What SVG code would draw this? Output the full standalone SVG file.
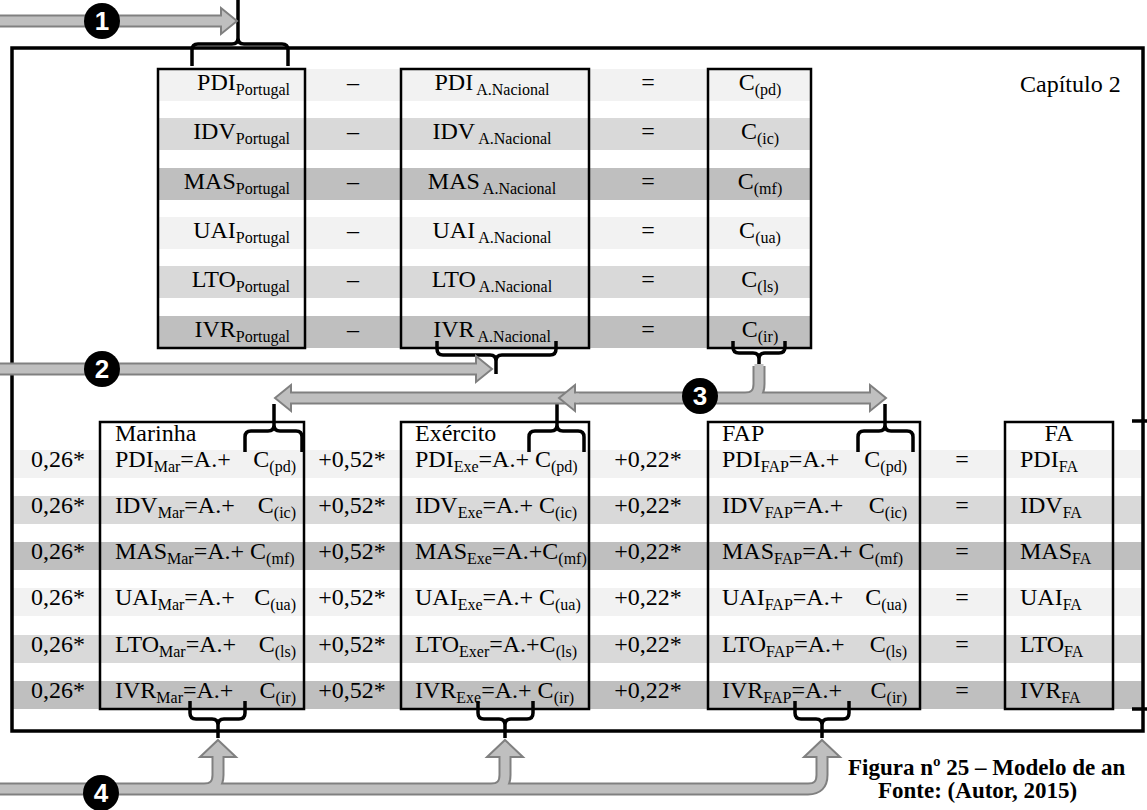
<svg xmlns="http://www.w3.org/2000/svg" width="1147" height="810" viewBox="0 0 1147 810">
<style>
.t{font-family:"Liberation Serif","Times New Roman",serif;font-size:24px;fill:#000}
.s{font-size:16px}
.m{text-anchor:middle}
.e{text-anchor:end}
.box{fill:none;stroke:#000;stroke-width:2.5}
.frame{fill:none;stroke:#000;stroke-width:3.5}
.brace{fill:none;stroke:#000;stroke-width:3.5;stroke-linejoin:round}
.ao{fill:none;stroke:#808080;stroke-width:13}
.ai{fill:none;stroke:#bfbfbf;stroke-width:9}
.ah{fill:#bfbfbf;stroke:#808080;stroke-width:2}
.b1{fill:#f2f2f2}.b2{fill:#d9d9d9}.b3{fill:#bfbfbf}
.num{font-family:"Liberation Sans Narrow","Liberation Sans",Arial,sans-serif;font-weight:bold;font-size:26px;fill:#fff;text-anchor:middle}
.cap{font-family:"Liberation Serif","Times New Roman",serif;font-weight:bold;font-size:23px;fill:#000}
</style>
<rect width="1147" height="810" fill="#fff"/>
<g id="rows">
<rect class="b1" x="158" y="69" width="653" height="32"/>
<rect class="b2" x="158" y="118" width="653" height="32"/>
<rect class="b3" x="158" y="168" width="653" height="32"/>
<rect class="b1" x="158" y="217" width="653" height="32"/>
<rect class="b2" x="158" y="266" width="653" height="32"/>
<rect class="b3" x="158" y="316" width="653" height="32"/>
<rect class="b1" x="12" y="450" width="1131" height="28"/>
<rect class="b2" x="12" y="496" width="1131" height="28"/>
<rect class="b3" x="12" y="542" width="1131" height="28"/>
<rect class="b1" x="12" y="588" width="1131" height="28"/>
<rect class="b2" x="12" y="635" width="1131" height="28"/>
<rect class="b3" x="12" y="681" width="1131" height="28"/>
</g>
<g id="col-portugal" class="t">
<rect class="box" x="158" y="69" width="147" height="279"/>
<text class="e" x="290" y="90">PDI<tspan class="s" dy="5">Portugal</tspan></text>
<text class="e" x="290" y="139">IDV<tspan class="s" dy="5">Portugal</tspan></text>
<text class="e" x="290" y="189">MAS<tspan class="s" dy="5">Portugal</tspan></text>
<text class="e" x="290" y="238">UAI<tspan class="s" dy="5">Portugal</tspan></text>
<text class="e" x="290" y="287">LTO<tspan class="s" dy="5">Portugal</tspan></text>
<text class="e" x="290" y="337">IVR<tspan class="s" dy="5">Portugal</tspan></text>
</g>
<g id="op-minus" class="t">
<text class="m" x="353" y="90">–</text>
<text class="m" x="353" y="139">–</text>
<text class="m" x="353" y="189">–</text>
<text class="m" x="353" y="238">–</text>
<text class="m" x="353" y="287">–</text>
<text class="m" x="353" y="337">–</text>
</g>
<g id="col-anacional" class="t">
<rect class="box" x="401" y="69" width="188" height="279"/>
<text class="m" x="492" y="90">PDI<tspan class="s" dx="3" dy="5">A.Nacional</tspan></text>
<text class="m" x="492" y="139">IDV<tspan class="s" dx="3" dy="5">A.Nacional</tspan></text>
<text class="m" x="492" y="189">MAS<tspan class="s" dx="3" dy="5">A.Nacional</tspan></text>
<text class="m" x="492" y="238">UAI<tspan class="s" dx="3" dy="5">A.Nacional</tspan></text>
<text class="m" x="492" y="287">LTO<tspan class="s" dx="3" dy="5">A.Nacional</tspan></text>
<text class="m" x="492" y="337">IVR<tspan class="s" dx="3" dy="5">A.Nacional</tspan></text>
</g>
<g id="op-equals-top" class="t">
<text class="m" x="648" y="90">=</text>
<text class="m" x="648" y="139">=</text>
<text class="m" x="648" y="189">=</text>
<text class="m" x="648" y="238">=</text>
<text class="m" x="648" y="287">=</text>
<text class="m" x="648" y="337">=</text>
</g>
<g id="col-c" class="t">
<rect class="box" x="708" y="69" width="103" height="279"/>
<text class="m" x="760" y="90">C<tspan class="s" dy="5">(pd)</tspan></text>
<text class="m" x="760" y="139">C<tspan class="s" dy="5">(ic)</tspan></text>
<text class="m" x="760" y="189">C<tspan class="s" dy="5">(mf)</tspan></text>
<text class="m" x="760" y="238">C<tspan class="s" dy="5">(ua)</tspan></text>
<text class="m" x="760" y="287">C<tspan class="s" dy="5">(ls)</tspan></text>
<text class="m" x="760" y="337">C<tspan class="s" dy="5">(ir)</tspan></text>
</g>
<g id="chapter" class="t"><text x="1020" y="92">Capítulo 2</text></g>
<g id="w-marinha" class="t">
<text class="m" x="58" y="467">0,26*</text>
<text class="m" x="58" y="513">0,26*</text>
<text class="m" x="58" y="559">0,26*</text>
<text class="m" x="58" y="605">0,26*</text>
<text class="m" x="58" y="652">0,26*</text>
<text class="m" x="58" y="698">0,26*</text>
</g>
<g id="col-marinha" class="t">
<rect class="box" x="100" y="422" width="204" height="287"/>
<text x="115" y="441">Marinha</text>
<text x="115" y="467">PDI<tspan class="s" dy="5">Mar</tspan><tspan dy="-5">=A.+</tspan></text>
<text class="e" x="296" y="467">C<tspan class="s" dy="5">(pd)</tspan></text>
<text x="115" y="513">IDV<tspan class="s" dy="5">Mar</tspan><tspan dy="-5">=A.+</tspan></text>
<text class="e" x="296" y="513">C<tspan class="s" dy="5">(ic)</tspan></text>
<text x="115" y="559">MAS<tspan class="s" dy="5">Mar</tspan><tspan dy="-5">=A.+ C</tspan><tspan class="s" dy="5">(mf)</tspan></text>
<text x="115" y="605">UAI<tspan class="s" dy="5">Mar</tspan><tspan dy="-5">=A.+</tspan></text>
<text class="e" x="296" y="605">C<tspan class="s" dy="5">(ua)</tspan></text>
<text x="115" y="652">LTO<tspan class="s" dy="5">Mar</tspan><tspan dy="-5">=A.+</tspan></text>
<text class="e" x="296" y="652">C<tspan class="s" dy="5">(ls)</tspan></text>
<text x="115" y="698">IVR<tspan class="s" dy="5">Mar</tspan><tspan dy="-5">=A.+</tspan></text>
<text class="e" x="296" y="698">C<tspan class="s" dy="5">(ir)</tspan></text>
</g>
<g id="w-exercito" class="t">
<text class="m" x="352" y="467">+0,52*</text>
<text class="m" x="352" y="513">+0,52*</text>
<text class="m" x="352" y="559">+0,52*</text>
<text class="m" x="352" y="605">+0,52*</text>
<text class="m" x="352" y="652">+0,52*</text>
<text class="m" x="352" y="698">+0,52*</text>
</g>
<g id="col-exercito" class="t">
<rect class="box" x="401" y="422" width="188" height="287"/>
<text x="415" y="441">Exército</text>
<text x="415" y="467">PDI<tspan class="s" dy="5">Exe</tspan><tspan dy="-5">=A.+ C</tspan><tspan class="s" dy="5">(pd)</tspan></text>
<text x="415" y="513">IDV<tspan class="s" dy="5">Exe</tspan><tspan dy="-5">=A.+ C</tspan><tspan class="s" dy="5">(ic)</tspan></text>
<text x="415" y="559">MAS<tspan class="s" dy="5">Exe</tspan><tspan dy="-5">=A.+C</tspan><tspan class="s" dy="5">(mf)</tspan></text>
<text x="415" y="605">UAI<tspan class="s" dy="5">Exe</tspan><tspan dy="-5">=A.+ C</tspan><tspan class="s" dy="5">(ua)</tspan></text>
<text x="415" y="652">LTO<tspan class="s" dy="5">Exer</tspan><tspan dy="-5">=A.+C</tspan><tspan class="s" dy="5">(ls)</tspan></text>
<text x="415" y="698">IVR<tspan class="s" dy="5">Exe</tspan><tspan dy="-5">=A.+ C</tspan><tspan class="s" dy="5">(ir)</tspan></text>
</g>
<g id="w-fap" class="t">
<text class="m" x="648" y="467">+0,22*</text>
<text class="m" x="648" y="513">+0,22*</text>
<text class="m" x="648" y="559">+0,22*</text>
<text class="m" x="648" y="605">+0,22*</text>
<text class="m" x="648" y="652">+0,22*</text>
<text class="m" x="648" y="698">+0,22*</text>
</g>
<g id="col-fap" class="t">
<rect class="box" x="708" y="422" width="212" height="287"/>
<text x="722" y="441">FAP</text>
<text x="722" y="467">PDI<tspan class="s" dy="5">FAP</tspan><tspan dy="-5">=A.+</tspan></text>
<text class="e" x="907" y="467">C<tspan class="s" dy="5">(pd)</tspan></text>
<text x="722" y="513">IDV<tspan class="s" dy="5">FAP</tspan><tspan dy="-5">=A.+</tspan></text>
<text class="e" x="907" y="513">C<tspan class="s" dy="5">(ic)</tspan></text>
<text x="722" y="559">MAS<tspan class="s" dy="5">FAP</tspan><tspan dy="-5">=A.+ C</tspan><tspan class="s" dy="5">(mf)</tspan></text>
<text x="722" y="605">UAI<tspan class="s" dy="5">FAP</tspan><tspan dy="-5">=A.+</tspan></text>
<text class="e" x="907" y="605">C<tspan class="s" dy="5">(ua)</tspan></text>
<text x="722" y="652">LTO<tspan class="s" dy="5">FAP</tspan><tspan dy="-5">=A.+</tspan></text>
<text class="e" x="907" y="652">C<tspan class="s" dy="5">(ls)</tspan></text>
<text x="722" y="698">IVR<tspan class="s" dy="5">FAP</tspan><tspan dy="-5">=A.+</tspan></text>
<text class="e" x="907" y="698">C<tspan class="s" dy="5">(ir)</tspan></text>
</g>
<g id="op-equals-bottom" class="t">
<text class="m" x="962" y="467">=</text>
<text class="m" x="962" y="513">=</text>
<text class="m" x="962" y="559">=</text>
<text class="m" x="962" y="605">=</text>
<text class="m" x="962" y="652">=</text>
<text class="m" x="962" y="698">=</text>
</g>
<g id="col-fa" class="t">
<rect class="box" x="1005" y="422" width="108" height="287"/>
<text class="m" x="1059" y="441">FA</text>
<text x="1020" y="467">PDI<tspan class="s" dy="5">FA</tspan></text>
<text x="1020" y="513">IDV<tspan class="s" dy="5">FA</tspan></text>
<text x="1020" y="559">MAS<tspan class="s" dy="5">FA</tspan></text>
<text x="1020" y="605">UAI<tspan class="s" dy="5">FA</tspan></text>
<text x="1020" y="652">LTO<tspan class="s" dy="5">FA</tspan></text>
<text x="1020" y="698">IVR<tspan class="s" dy="5">FA</tspan></text>
</g>
<g id="frame">
<rect class="frame" x="12" y="48" width="1131" height="683"/>
<path d="M1132,421 H1147 M1132,709 H1147" stroke="#000" stroke-width="3.5"/>
</g>
<g id="connectors">
<path class="brace" d="M192,66 V50 Q192,44 198,44 H232 Q238,44 238,38 V0 M238,38 Q238,44 244,44 H282 Q288,44 288,50 V66"/>
<path class="brace" d="M437,341 V349 Q437,355 443,355 H490 Q496,355 496,361 V374 M496,361 Q496,355 502,355 H550 Q556,355 556,349 V341"/>
<path class="brace" d="M733,341 V347 Q733,353 739,353 H753 Q759,353 759,359 V368 M759,359 Q759,353 765,353 H779 Q785,353 785,347 V341"/>
<path class="brace" d="M245,452 V437 Q245,431 251,431 H268 Q274,431 274,425 V404 M274,425 Q274,431 280,431 H296 Q302,431 302,437 V452"/>
<path class="brace" d="M529,452 V437 Q529,431 535,431 H551 Q557,431 557,425 V404 M557,425 Q557,431 563,431 H578 Q584,431 584,437 V452"/>
<path class="brace" d="M858,452 V437 Q858,431 864,431 H879 Q885,431 885,425 V404 M885,425 Q885,431 891,431 H907 Q913,431 913,437 V452"/>
<path class="brace" d="M190,701 V713 Q190,719 196,719 H212 Q218,719 218,725 V738 M218,725 Q218,719 224,719 H239 Q245,719 245,713 V701"/>
<path class="brace" d="M478,701 V713 Q478,719 484,719 H499 Q505,719 505,725 V738 M505,725 Q505,719 511,719 H527 Q533,719 533,713 V701"/>
<path class="brace" d="M795,701 V713 Q795,719 801,719 H816 Q822,719 822,725 V738 M822,725 Q822,719 828,719 H843 Q849,719 849,713 V701"/>
<g id="arrow1">
<path class="ao" d="M-5,21 H222"/>
<polygon class="ah" points="221,8 237,21 221,34"/>
<path class="ai" d="M-5,21 H223"/>
</g>
<g id="arrow2">
<path class="ao" d="M-5,369 H477"/>
<polygon class="ah" points="476,356 492,369 476,382"/>
<path class="ai" d="M-5,369 H478"/>
</g>
<g id="arrow3">
<path class="ao" d="M291,398 H870 M759,366 V384 Q759,398 745,398 H700"/>
<polygon class="ah" points="291,385 275,398 291,411"/>
<polygon class="ah" points="870,385 886,398 870,411"/>
<path class="ai" d="M289,398 H872 M759,364 V384 Q759,398 745,398 H700"/>
<polygon class="ah" points="575,385 559,398 575,411"/>
<path class="ai" d="M573,398 H579"/>
</g>
<g id="arrow4">
<path class="ao" d="M-5,789 H808 Q822,789 822,775 V757 M-5,789 H491 Q505,789 505,775 V757 M-5,789 H204 Q218,789 218,775 V757"/>
<polygon class="ah" points="218,740 236,757 200,757"/>
<polygon class="ah" points="505,740 523,757 487,757"/>
<polygon class="ah" points="822,740 840,757 804,757"/>
<path class="ai" d="M-5,789 H808 Q822,789 822,775 V755 M-5,789 H491 Q505,789 505,775 V755 M-5,789 H204 Q218,789 218,775 V755"/>
</g>
</g>
<g id="markers">
<circle cx="102" cy="21" r="18" fill="#000"/><text class="num" x="102" y="30">1</text>
<circle cx="102" cy="369" r="18" fill="#000"/><text class="num" x="102" y="378">2</text>
<circle cx="700" cy="396" r="18" fill="#000"/><text class="num" x="700" y="405">3</text>
<circle cx="101" cy="793" r="18" fill="#000"/><text class="num" x="101" y="802">4</text>
</g>
<g id="caption">
<text class="cap" x="848" y="775">Figura nº 25 – Modelo de an</text>
<text class="cap" x="878" y="798">Fonte: (Autor, 2015)</text>
</g>
</svg>
